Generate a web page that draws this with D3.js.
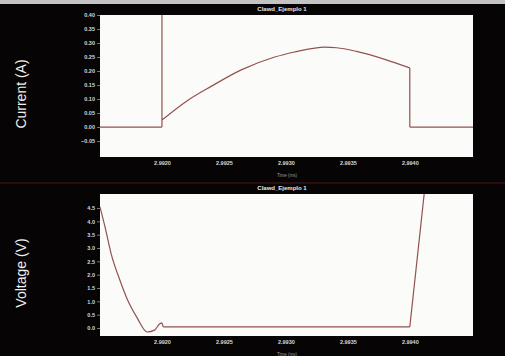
<!DOCTYPE html>
<html>
<head>
<meta charset="utf-8">
<script src="https://cdn.jsdelivr.net/npm/d3@7"></script>
<style>
  html, body { margin: 0; padding: 0; background: #060404; }
  svg { display: block; }
</style>
</head>
<body>
<div id="chart"></div>
<script>
// values
const panelTitle = 'Clawd_Ejemplo 1';
const timeTicks = [2.9920, 2.9925, 2.9930, 2.9935, 2.9940];
const currentTicks = [-0.05, 0.00, 0.05, 0.10, 0.15, 0.20, 0.25, 0.30, 0.35, 0.40];
const voltageTicks = [0.0, 0.5, 1.0, 1.5, 2.0, 2.5, 3.0, 3.5, 4.0, 4.5];

const currentTime = [2.9915, 2.9920, 2.9920, 2.9920, 2.99221, 2.99240, 2.99264, 2.99291,
  2.99307, 2.99322, 2.99331, 2.99341, 2.99357, 2.99381, 2.99400, 2.99400, 2.99451];
const currentValues = [0, 0, 0.45, 0.025, 0.096, 0.146, 0.204, 0.250,
  0.268, 0.281, 0.285, 0.283, 0.270, 0.240, 0.211, 0, 0];
// indices where the trace has a sharp corner
const currentCorners = [1, 2, 3, 14, 15];

const voltageTime = [2.9915, 2.99154, 2.99159, 2.99166, 2.99172, 2.99180, 2.99188, 2.99194,
  2.99198, 2.9920, 2.99201, 2.99400, 2.99412];
const voltageValues = [4.54, 3.80, 2.78, 1.80, 1.08, 0.38, -0.15, -0.08,
  0.15, 0.19, 0.04, 0.04, 5.2];
const voltageCorners = [9, 10, 11];

const W = 505, H = 356;
const svg = d3.select('#chart').append('svg').attr('width', W).attr('height', H);

svg.append('rect').attr('width', W).attr('height', H).attr('fill', '#060404');
svg.append('rect').attr('width', W).attr('height', 4).attr('fill', '#c4c4c4');
svg.append('line').attr('x1', 0).attr('x2', W).attr('y1', 183).attr('y2', 183)
  .attr('stroke', '#2c0d0d').attr('stroke-width', 2);

const x = d3.scaleLinear().domain([2.9915, 2.99451]).range([100, 473]);

const panels = [
  { id: 'cur', top: 15, bottom: 157, domain: [-0.107, 0.40], ticks: currentTicks, fmt: '.2f',
    label: 'Current (A)', labelY: 94, time: currentTime, values: currentValues, corners: currentCorners },
  { id: 'vol', top: 194, bottom: 336, domain: [-0.30, 5.025], ticks: voltageTicks, fmt: '.1f',
    label: 'Voltage (V)', labelY: 273, time: voltageTime, values: voltageValues, corners: voltageCorners }
];

panels.forEach(p => {
  const y = d3.scaleLinear().domain(p.domain).range([p.bottom, p.top]);
  const g = svg.append('g');

  g.append('clipPath').attr('id', 'clip-' + p.id).append('rect')
    .attr('x', 100).attr('y', p.top).attr('width', 373).attr('height', p.bottom - p.top);
  g.append('rect').attr('x', 100).attr('y', p.top).attr('width', 373).attr('height', p.bottom - p.top)
    .attr('fill', '#fbfbf9');

  g.append('text').text(panelTitle).attr('x', 282).attr('y', p.top - 4)
    .attr('text-anchor', 'middle').attr('fill', '#e8e8e8')
    .style('font', 'bold 6px "Liberation Sans", Arial, sans-serif');

  const yAxis = g.append('g').attr('transform', 'translate(100,0)')
    .call(d3.axisLeft(y).tickValues(p.ticks).tickFormat(d3.format(p.fmt)).tickSize(3).tickPadding(2));
  const xAxis = g.append('g').attr('transform', `translate(0,${p.bottom})`)
    .call(d3.axisBottom(x).tickValues(timeTicks).tickFormat(d3.format('.4f')).tickSize(0).tickPadding(4));
  [yAxis, xAxis].forEach(a => {
    a.select('.domain').remove();
    a.selectAll('line').attr('stroke', '#777');
    a.selectAll('text').attr('fill', '#d8d8d8')
      .style('font', 'bold 5.5px "Liberation Sans", Arial, sans-serif');
  });

  g.append('text').text('Time (ms)').attr('x', 287).attr('y', p.bottom + 20)
    .attr('text-anchor', 'middle').attr('fill', '#9a9a9a')
    .style('font', '4.5px "Liberation Sans", Arial, sans-serif');

  g.append('text').text(p.label)
    .attr('transform', `translate(26,${p.labelY}) rotate(-90)`)
    .attr('text-anchor', 'middle').attr('fill', '#f0f0f0')
    .style('font', '14px "Liberation Sans", Arial, sans-serif');

  // split the trace at its corners, smooth the pieces in between
  const pts = p.time.map((t, i) => [t, p.values[i]]);
  const cuts = [0, ...p.corners, pts.length - 1];
  const pieces = [];
  for (let k = 0; k < cuts.length - 1; k++) pieces.push(pts.slice(cuts[k], cuts[k + 1] + 1));
  const line = d3.line().x(d => x(d[0])).y(d => y(d[1])).curve(d3.curveMonotoneX);
  g.append('path').attr('d', pieces.map(line).join(''))
    .attr('clip-path', `url(#clip-${p.id})`)
    .attr('fill', 'none').attr('stroke', '#925252').attr('stroke-width', 1.2)
    .attr('stroke-linejoin', 'round');
});
</script>
</body>
</html>
